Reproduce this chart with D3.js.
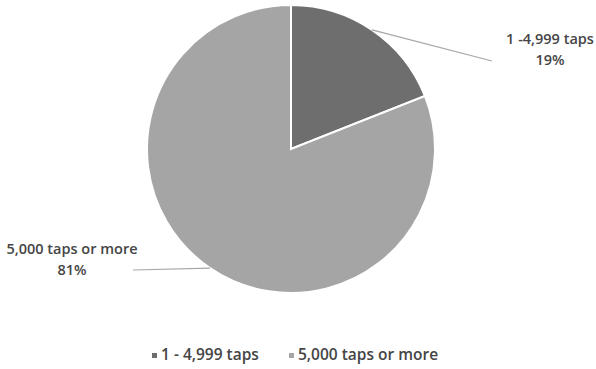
<!DOCTYPE html>
<html>
<head>
<meta charset="utf-8">
<script src="https://cdn.jsdelivr.net/npm/d3@7"></script>
<style>
body { margin: 0; background: #fff; }
text { font-family: "Open Sans", "Liberation Sans", sans-serif; fill: #454545; font-weight: 600; }
</style>
</head>
<body>
<svg id="chart" width="596" height="369"></svg>
<script>
var categories = ['1 - 4,999 taps', '5,000 taps or more']
var labelNames = ['1 -4,999 taps', '5,000 taps or more']
var values = [19, 81]
var colors = ['#6e6e6e', '#a5a5a5']

var svg = d3.select('#chart')
var cx = 291, cy = 149, r = 144

var pie = d3.pie().sort(null).value(d => d)
var arcs = pie(values)
var arc = d3.arc().innerRadius(0).outerRadius(r)

var g = svg.append('g').attr('transform', 'translate(' + cx + ',' + cy + ')')
g.selectAll('path')
    .data(arcs)
    .enter()
    .append('path')
    .attr('d', arc)
    .attr('fill', (d, i) => colors[i])
    .attr('stroke', '#fff')
    .attr('stroke-width', 2)

// leader lines and labels
var labelPos = [
    { lx: 201, ly: -88, tx: 259, ty: -105 },
    { lx: -158, ly: 121, tx: -219, ty: 105 }
]
arcs.forEach(function (d, i) {
    var a = (d.startAngle + d.endAngle) / 2
    var px = r * Math.sin(a), py = -r * Math.cos(a)
    var p = labelPos[i]
    g.append('line')
        .attr('x1', px).attr('y1', py)
        .attr('x2', p.lx).attr('y2', p.ly)
        .attr('stroke', '#a6a6a6')
        .attr('stroke-width', 1.2)
    var t = g.append('text')
        .attr('text-anchor', 'middle')
        .attr('font-size', 14.5)
    t.append('tspan').attr('x', p.tx).attr('y', p.ty).text(labelNames[i])
    t.append('tspan').attr('x', p.tx).attr('y', p.ty + 21).text(values[i] + '%')
})

// legend
var legendX = [152, 289]
var legend = svg.append('g')
legend.selectAll('rect')
    .data(categories)
    .enter()
    .append('rect')
    .attr('x', (d, i) => legendX[i])
    .attr('y', 353)
    .attr('width', 5)
    .attr('height', 5)
    .attr('fill', (d, i) => colors[i])
legend.selectAll('text')
    .data(categories)
    .enter()
    .append('text')
    .attr('x', (d, i) => legendX[i] + 9)
    .attr('y', 360)
    .attr('font-size', 15.5)
    .text(d => d)
</script>
</body>
</html>
